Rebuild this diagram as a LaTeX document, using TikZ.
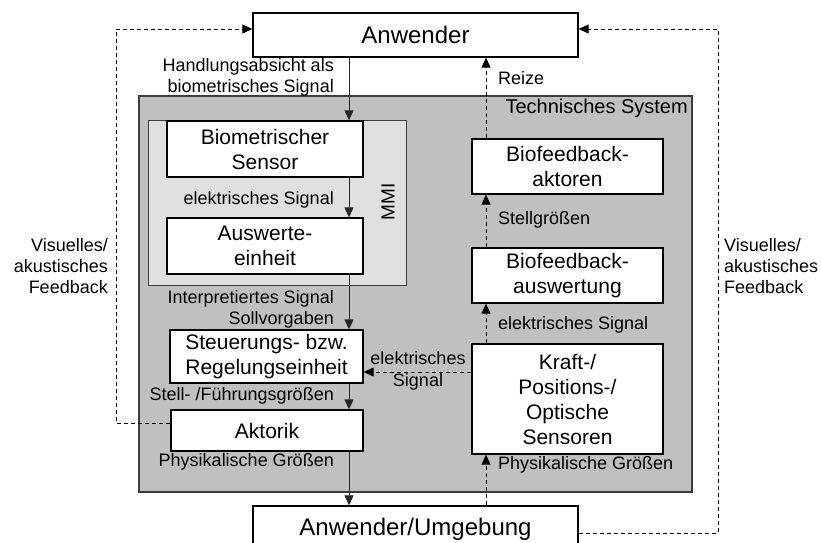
\documentclass[tikz,border=0pt]{standalone}
\usepackage{fontspec}
\setmainfont{Liberation Sans}
\usetikzlibrary{arrows.meta,calc}
\definecolor{tsgray}{RGB}{192,192,192}
\definecolor{mmigray}{RGB}{224,224,224}
\definecolor{edgegray}{RGB}{60,60,60}
\tikzset{
  box/.style={draw=black,line width=1.3pt,fill=white,inner sep=0pt,align=center,font=\fontsize{21}{25}\selectfont},
  bigbox/.style={box,font=\fontsize{24}{28}\selectfont},
  lbl/.style={inner sep=0pt,font=\fontsize{18}{21}\selectfont},
  tip/.style={-{Triangle[length=10pt,width=9pt]}},
  flow/.style={tip,line width=1pt,draw=black!85},
  fb/.style={tip,line width=0.9pt,dash pattern=on 4pt off 3pt},
}
\begin{document}
\begin{tikzpicture}[x=1pt,y=-1pt]
\useasboundingbox (0,0) rectangle (821,542);
% containers
\node[draw=edgegray,line width=1.2pt,fill=tsgray,minimum width=553pt,minimum height=396pt,inner sep=0pt] (ts) at (415.5,294) {};
\node[draw=edgegray,line width=1pt,fill=mmigray,minimum width=258pt,minimum height=165pt,inner sep=0pt] (mmi) at (277,202.5) {};
\node[lbl,font=\fontsize{20}{24}\selectfont,anchor=east] (tstitle) at (688,108) {Technisches System};
\node[lbl,font=\fontsize{19}{22}\selectfont,rotate=90] (mmilbl) at (388,202) {MMI};
% boxes
\node[bigbox,minimum width=325pt,minimum height=44pt] (anw) at (415.5,35) {Anwender};
\node[box,minimum width=196pt,minimum height=56pt] (bio) at (265,149) {Biometrischer\\Sensor};
\node[box,minimum width=196pt,minimum height=56pt] (ausw) at (265,246) {Auswerte-\\einheit};
\node[box,minimum width=193pt,minimum height=53pt] (steu) at (266.5,356.5) {Steuerungs- bzw.\\Regelungseinheit};
\node[box,minimum width=192pt,minimum height=41pt] (akt) at (267,430.5) {Aktorik};
\node[box,minimum width=191pt,minimum height=55pt] (bfa) at (567.5,166.5) {Biofeedback-\\aktoren};
\node[box,minimum width=191pt,minimum height=55pt] (bfw) at (567.5,275.5) {Biofeedback-\\auswertung};
\node[box,minimum width=191pt,minimum height=110pt] (kraft) at (567.5,399) {Kraft-/\\Positions-/\\Optische\\Sensoren};
\node[bigbox,minimum width=325pt,minimum height=48pt,text depth=6pt] (umg) at (415.5,530) {Anwender/Umgebung};
% column coordinates
\coordinate (lx) at (349,0);
\coordinate (rx) at (486,0);
\coordinate (ly) at (0,372);
\coordinate (fl) at (116,0);
\coordinate (fr) at (718,0);
\coordinate (aktout) at ([yshift=7.5pt]akt.west);
\coordinate (anwinl) at ([yshift=6pt]anw.west);
\coordinate (umgout) at ([yshift=-3pt]umg.east);
\coordinate (anwinr) at ([yshift=6pt]anw.east);
% main flow
\draw[flow] (anw.south -| lx) -- (bio.north -| lx);
\draw[flow] (bio.south -| lx) -- (ausw.north -| lx);
\draw[flow] (ausw.south -| lx) -- (steu.north -| lx);
\draw[flow] (steu.south -| lx) -- (akt.north -| lx);
\draw[flow] (akt.south -| lx) -- (umg.north -| lx);
% biofeedback flow
\draw[fb] (umg.north -| rx) -- (kraft.south -| rx);
\draw[fb] (kraft.north -| rx) -- (bfw.south -| rx);
\draw[fb] (bfw.north -| rx) -- (bfa.south -| rx);
\draw[fb] (bfa.north -| rx) -- (anw.south -| rx);
\draw[fb] (kraft.west |- ly) -- (steu.east |- ly);
% outer feedback loops
\draw[fb] (aktout) -- (aktout -| fl) -- (anwinl -| fl) -- (anwinl);
\draw[fb] (umgout) -- (umgout -| fr) -- (anwinr -| fr) -- (anwinr);
% labels
\node[lbl,anchor=east,align=right] (l1) at (334,77) {Handlungsabsicht als\\biometrisches Signal};
\node[lbl,anchor=east] (l2) at (334,200) {elektrisches Signal};
\node[lbl,anchor=east,align=right] (l3) at (334,309) {Interpretiertes Signal\\Sollvorgaben};
\node[lbl,anchor=east] (l4) at (334,396) {Stell- /Führungsgrößen};
\node[lbl,anchor=east] (l5) at (334,462) {Physikalische Größen};
\node[lbl,anchor=west] (r1) at (498,78) {Reize};
\node[lbl,anchor=west] (r2) at (498,220) {Stellgrößen};
\node[lbl,anchor=west] (r3) at (498,325) {elektrisches Signal};
\node[lbl,anchor=west] (r4) at (498,465) {Physikalische Größen};
\node[lbl,align=center,font=\fontsize{18}{22}\selectfont] (m1) at (418,371) {elektrisches\\Signal};
\node[lbl,anchor=east,align=right] (vl) at (108,266) {Visuelles/\\akustisches\\Feedback};
\node[lbl,anchor=west,align=left] (vr) at (724,266) {Visuelles/\\akustisches\\Feedback};
\end{tikzpicture}
\end{document}
